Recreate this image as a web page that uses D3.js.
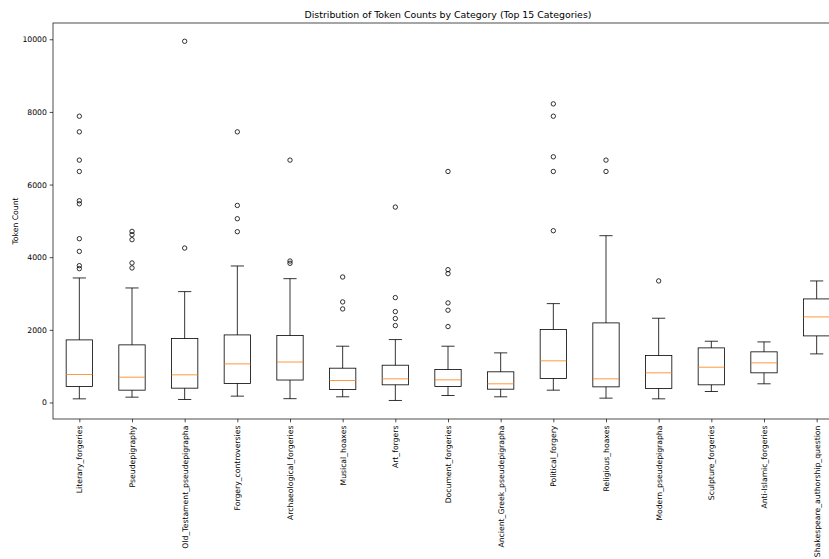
<!DOCTYPE html>
<html><head><meta charset="utf-8">
<script src="https://cdn.jsdelivr.net/npm/d3@7"></script>
<style>body{margin:0;background:#fff}svg{display:block}text{font-family:"DejaVu Sans",sans-serif;fill:#000}</style>
</head><body><svg id="c" width="829" height="559"></svg>
<script>
const categories = ["Literary_forgeries","Pseudepigraphy","Old_Testament_pseudepigrapha","Forgery_controversies","Archaeological_forgeries","Musical_hoaxes","Art_forgers","Document_forgeries","Ancient_Greek_pseudepigrapha","Political_forgery","Religious_hoaxes","Modern_pseudepigrapha","Sculpture_forgeries","Anti-Islamic_forgeries","Shakespeare_authorship_question"];
const whiskerLow  = [100, 146, 82, 174, 105, 156, 55, 192, 156, 339, 119, 100, 302, 514, 1338];
const q1          = [440, 339, 394, 522, 618, 357, 486, 440, 366, 660, 430, 385, 486, 816, 1833];
const medians     = [770, 696, 761, 1063, 1114, 605, 651, 623, 514, 1146, 651, 816, 971, 1091, 2356];
const q3          = [1723, 1586, 1760, 1860, 1842, 944, 1026, 907, 844, 2007, 2191, 1292, 1503, 1394, 2851];
const whiskerHigh = [3428, 3153, 3052, 3758, 3409, 1549, 1732, 1549, 1366, 2722, 4592, 2319, 1686, 1668, 3346];
const outliers = [
  [7882, 7451, 6673, 6360, 5554, 5470, 4509, 4160, 3767, 3684],
  [4711, 4620, 4482, 3841, 3704],
  [9945, 4252],
  [7451, 5425, 5059, 4702],
  [6673, 3895, 3832],
  [3455, 2768, 2576],
  [5380, 2887, 2502, 2310, 2117],
  [6360, 3657, 3547, 2741, 2540, 2090],
  [],
  [8221, 7882, 6764, 6360, 4729],
  [6673, 6360],
  [3346],
  [],
  [],
  []
];
const yTicks = [0, 2000, 4000, 6000, 8000, 10000];

const svg = d3.select("#c");
const L = 53, R = 843, T = 23, B = 419;
const x = d3.scalePoint().domain(categories).range([L, R]).padding(0.5);
const y = d3.scaleLinear().domain([-455, 10448]).range([B, T]);
const step = x.step();
const bw = step * 0.5;
const lw = 0.8;
const fs = 7.7;

const g = svg.append("g");
categories.forEach((c, i) => {
  const cx = x(c);
  const gg = g.append("g");
  gg.append("line").attr("x1", cx).attr("x2", cx).attr("y1", y(q3[i])).attr("y2", y(whiskerHigh[i])).attr("stroke", "#000").attr("stroke-width", lw);
  gg.append("line").attr("x1", cx).attr("x2", cx).attr("y1", y(q1[i])).attr("y2", y(whiskerLow[i])).attr("stroke", "#000").attr("stroke-width", lw);
  [whiskerHigh[i], whiskerLow[i]].forEach(v => {
    gg.append("line").attr("x1", cx - bw / 4).attr("x2", cx + bw / 4).attr("y1", y(v)).attr("y2", y(v)).attr("stroke", "#000").attr("stroke-width", lw);
  });
  gg.append("rect").attr("x", cx - bw / 2).attr("y", y(q3[i])).attr("width", bw).attr("height", y(q1[i]) - y(q3[i]))
    .attr("fill", "none").attr("stroke", "#000").attr("stroke-width", lw);
  gg.append("line").attr("x1", cx - bw / 2).attr("x2", cx + bw / 2).attr("y1", y(medians[i])).attr("y2", y(medians[i])).attr("stroke", "#ff7f0e").attr("stroke-width", lw);
  gg.selectAll("circle").data(outliers[i]).enter().append("circle")
    .attr("cx", cx).attr("cy", d => y(d)).attr("r", 2.2).attr("fill", "none").attr("stroke", "#000").attr("stroke-width", lw);
});

const yAxis = d3.axisLeft(y).tickValues(yTicks).tickFormat(d3.format("d")).tickSize(3.3).tickPadding(2.8);
const ya = svg.append("g").attr("transform", `translate(${L},0)`).call(yAxis);
ya.select(".domain").remove();
ya.selectAll("text").attr("font-size", fs).style("font-family", "DejaVu Sans");
ya.selectAll("line").attr("stroke-width", 0.7);

const xAxis = d3.axisBottom(x).tickSize(3.3).tickPadding(2.8);
const xa = svg.append("g").attr("transform", `translate(0,${B})`).call(xAxis);
xa.select(".domain").remove();
xa.selectAll("line").attr("stroke-width", 0.7);
xa.selectAll("text").attr("font-size", fs).style("font-family", "DejaVu Sans")
  .attr("transform", "rotate(-90)").attr("text-anchor", "end").attr("dy", "0.32em").attr("x", -6.6).attr("y", 0);

svg.append("rect").attr("x", L).attr("y", T).attr("width", R - L).attr("height", B - T)
  .attr("fill", "none").attr("stroke", "#000").attr("stroke-width", 0.7);

svg.append("text").attr("x", (L + R) / 2).attr("y", 17.5).attr("text-anchor", "middle").attr("font-size", 9.4).text("Distribution of Token Counts by Category (Top 15 Categories)");
svg.append("text").attr("transform", `translate(17.5,${(T + B) / 2}) rotate(-90)`).attr("text-anchor", "middle").attr("font-size", fs).text("Token Count");
</script></body></html>
